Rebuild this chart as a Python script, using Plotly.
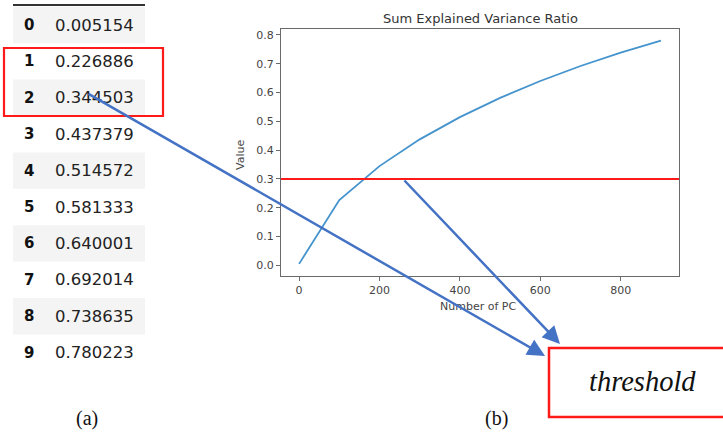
import plotly.graph_objects as go

# ---------------- data ----------------
row_index = [0, 1, 2, 3, 4, 5, 6, 7, 8, 9]
n_pc = [0, 100, 200, 300, 400, 500, 600, 700, 800, 900]
cum_ratio = [0.005154, 0.226886, 0.344503, 0.437379, 0.514572,
             0.581333, 0.640001, 0.692014, 0.738635, 0.780223]
threshold = 0.3
x_ticks = [0, 200, 400, 600, 800]
y_ticks = [0.0, 0.1, 0.2, 0.3, 0.4, 0.5, 0.6, 0.7, 0.8]
title_text = "Sum Explained Variance Ratio"
x_title = "Number of PC"
y_title = "Value"
box_text = "threshold"
panel_labels = ["(a)", "(b)"]

# ---------------- layout geometry (pixels) ----------------
W, H = 723, 434
L, R, T, B = 281, 679, 29, 276
ROW0, PITCH = 25, 36.4
ARROW = "#4472C4"
RED = "#ff1a1a"

fig = go.Figure()

fig.add_trace(go.Scatter(
    x=n_pc, y=cum_ratio, mode="lines",
    line=dict(color="#4593cd", width=1.8),
    xaxis="x", yaxis="y", showlegend=False, hoverinfo="skip"))

axis_common = dict(
    showline=True, mirror=True, linecolor="#6a6a6a", linewidth=1.2,
    ticks="outside", ticklen=4, tickcolor="#6a6a6a", showgrid=False, zeroline=False,
    tickfont=dict(family="DejaVu Sans", size=11, color="#444"))

fig.update_layout(
    width=W, height=H, margin=dict(l=0, r=0, t=0, b=0),
    paper_bgcolor="white", plot_bgcolor="rgba(0,0,0,0)",
    xaxis=dict(domain=[L / W, R / W], range=[-45, 945], tickvals=x_ticks,
               anchor="y", **axis_common),
    yaxis=dict(domain=[1 - B / H, 1 - T / H], range=[-0.037, 0.8205],
               tickvals=y_ticks, tickformat=".1f", anchor="x", **axis_common),
    xaxis2=dict(domain=[0, 1], range=[0, W], visible=False, anchor="y2", fixedrange=True),
    yaxis2=dict(domain=[0, 1], range=[H, 0], visible=False, anchor="x2", fixedrange=True),
    showlegend=False,
)

shapes = []
annotations = []

# threshold line across the axes
shapes.append(dict(type="line", xref="x domain", yref="y", x0=0, x1=1,
                   y0=threshold, y1=threshold, line=dict(color=RED, width=2)))

# title and axis titles
annotations.append(dict(xref="x2", yref="y2", x=(L + R) / 2, y=18, text=title_text,
                        showarrow=False, font=dict(family="DejaVu Sans", size=13, color="#333"),
                        xanchor="center", yanchor="middle"))
annotations.append(dict(xref="x2", yref="y2", x=(L + R) / 2 - 2, y=306, text=x_title,
                        showarrow=False, font=dict(family="DejaVu Sans", size=11, color="#444"),
                        xanchor="center", yanchor="middle"))
annotations.append(dict(xref="x2", yref="y2", x=240, y=155, text=y_title, textangle=-90,
                        showarrow=False, font=dict(family="DejaVu Sans", size=11, color="#444"),
                        xanchor="center", yanchor="middle"))

# ---------------- table ----------------
shapes.append(dict(type="line", xref="x2", yref="y2", x0=13, x1=145, y0=5, y1=5,
                   line=dict(color="#333", width=2)))
for i, (idx, val) in enumerate(zip(row_index, cum_ratio)):
    yc = ROW0 + PITCH * i
    if i % 2 == 0:
        shapes.append(dict(type="rect", xref="x2", yref="y2", x0=13, x1=145,
                           y0=yc - PITCH / 2, y1=yc + PITCH / 2,
                           fillcolor="#f4f4f4", line=dict(width=0), layer="below"))
    annotations.append(dict(xref="x2", yref="y2", x=29, y=yc, text=f"<b>{idx}</b>",
                            showarrow=False, xanchor="center", yanchor="middle",
                            font=dict(family="DejaVu Sans", size=15, color="#111")))
    annotations.append(dict(xref="x2", yref="y2", x=53, y=yc, text=f"{val:.6f}",
                            showarrow=False, xanchor="left", yanchor="middle",
                            font=dict(family="DejaVu Sans", size=16.5, color="#222")))

# red box around rows 1-2
shapes.append(dict(type="rect", xref="x2", yref="y2", x0=4, x1=163, y0=48, y1=116,
                   line=dict(color=RED, width=2.2), fillcolor="rgba(0,0,0,0)"))

# threshold box
shapes.append(dict(type="rect", xref="x2", yref="y2", x0=549, x1=735, y0=348, y1=417,
                   line=dict(color=RED, width=2.5), fillcolor="rgba(0,0,0,0)"))
annotations.append(dict(xref="x2", yref="y2", x=642, y=381, text=f"<i>{box_text}</i>",
                        showarrow=False, xanchor="center", yanchor="middle",
                        font=dict(family="Liberation Serif", size=28.5, color="#111")))

# panel labels
annotations.append(dict(xref="x2", yref="y2", x=87, y=418, text=panel_labels[0],
                        showarrow=False, xanchor="center", yanchor="middle",
                        font=dict(family="Liberation Serif", size=20, color="#111")))
annotations.append(dict(xref="x2", yref="y2", x=496, y=418, text=panel_labels[1],
                        showarrow=False, xanchor="center", yanchor="middle",
                        font=dict(family="Liberation Serif", size=20, color="#111")))

# arrows
annotations.append(dict(xref="x2", yref="y2", axref="x2", ayref="y2",
                        x=545, y=356, ax=87, ay=93, text="", showarrow=True,
                        arrowhead=2, arrowsize=1.4, arrowwidth=2.5, arrowcolor=ARROW,
                        standoff=0, startstandoff=0))
annotations.append(dict(xref="x2", yref="y2", axref="x2", ayref="y2",
                        x=560, y=344, ax=403, ay=179, text="", showarrow=True,
                        arrowhead=2, arrowsize=1.4, arrowwidth=2.5, arrowcolor=ARROW,
                        standoff=0, startstandoff=0))

fig.update_layout(shapes=shapes, annotations=annotations)
fig.write_html("out.html")
